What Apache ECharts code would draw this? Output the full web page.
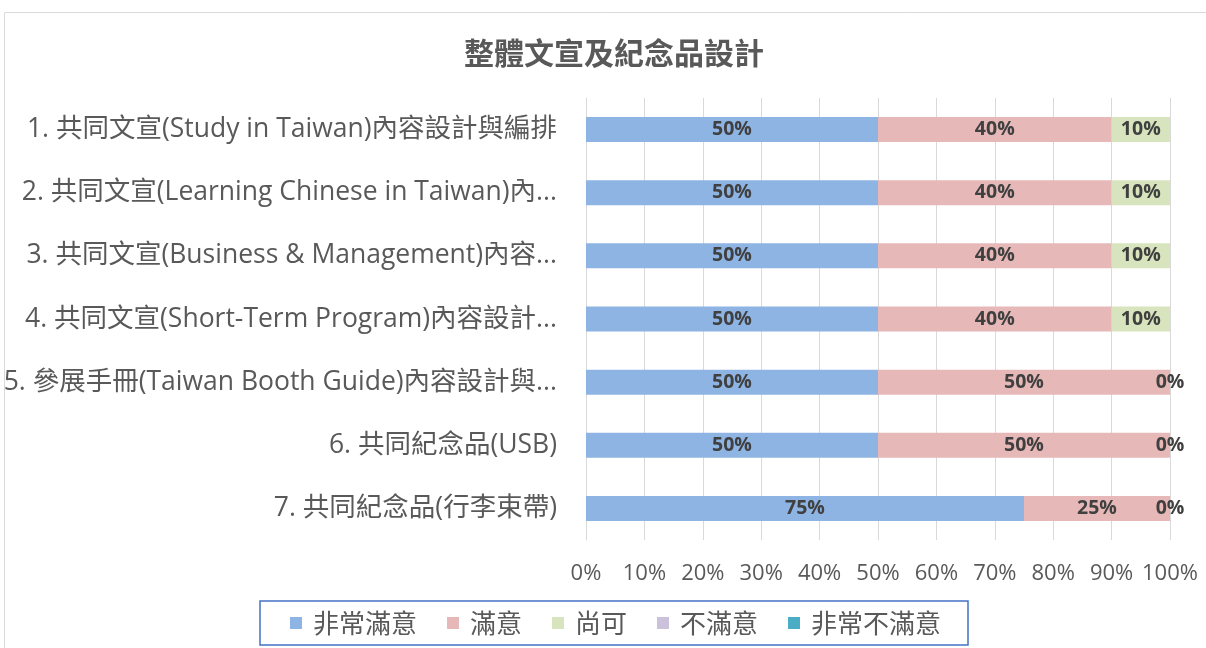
<!DOCTYPE html>
<html>
<head>
<meta charset="utf-8">
<script src="https://cdn.jsdelivr.net/npm/echarts@6/dist/echarts.min.js"></script>
<style>
  html, body { margin: 0; padding: 0; background: #fff; }
  #chart { width: 1206px; height: 648px; }
</style>
</head>
<body>
<div id="chart"></div>
<script>
var chartTitle = '整體文宣及紀念品設計';
var categories = [
    '1. 共同文宣(Study in Taiwan)內容設計與編排',
    '2. 共同文宣(Learning Chinese in Taiwan)內容設計與編排',
    '3. 共同文宣(Business & Management)內容設計與編排',
    '4. 共同文宣(Short-Term Program)內容設計與編排',
    '5. 參展手冊(Taiwan Booth Guide)內容設計與編排',
    '6. 共同紀念品(USB)',
    '7. 共同紀念品(行李束帶)'
];
var seriesNames = ['非常滿意', '滿意', '尚可', '不滿意', '非常不滿意'];
var veryGood = [50, 50, 50, 50, 50, 50, 75];
var good = [40, 40, 40, 40, 50, 50, 25];
var fair = [10, 10, 10, 10, 0, 0, 0];
var bad = [null, null, null, null, null, null, null];
var veryBad = [null, null, null, null, null, null, null];
var xTicks = [0, 10, 20, 30, 40, 50, 60, 70, 80, 90, 100];

var colors = ['#8EB4E3', '#E6B9B8', '#D7E4BD', '#CCC1DA', '#4BACC6'];
var font = '"Open Sans", "Noto Sans CJK TC", sans-serif';
var cjkFont = '"Noto Sans CJK TC", sans-serif';
var catFontSize = 26.5;
var catMaxWidth = 554;

// 類別標籤太長時像 Excel 一樣以 ... 截斷（用 canvas 實際量寬度）
var measureCtx = document.createElement('canvas').getContext('2d');
measureCtx.font = catFontSize + 'px ' + font;
function cutLabel(s) {
    if (measureCtx.measureText(s).width <= catMaxWidth) return s;
    var t = s;
    while (t.length > 1 && measureCtx.measureText(t + '...').width > catMaxWidth) {
        t = t.slice(0, -1);
    }
    return t + '...';
}

// Excel 類別軸由上而下，ECharts 由下而上，所以反轉
var cats = categories.slice().reverse();
function rev(a) { return a.slice().reverse(); }
var allData = [veryGood, good, fair, bad, veryBad];

var series = seriesNames.map(function (name, i) {
    return {
        name: name,
        type: 'bar',
        stack: 'total',
        barWidth: 25,
        data: rev(allData[i]),
        itemStyle: { color: colors[i] },
        label: {
            show: i < 3,
            position: 'inside',
            formatter: '{c}%',
            fontFamily: font,
            fontSize: 19.5,
            fontWeight: 'bold',
            color: '#404040'
        }
    };
});

var myChart = echarts.init(document.getElementById('chart'));
var option = {
    animation: false,
    title: {
        text: chartTitle,
        left: 609,
        textAlign: 'center',
        top: 33,
        textStyle: {
            fontFamily: cjkFont,
            fontSize: 30,
            fontWeight: 'bold',
            color: '#595959'
        }
    },
    legend: {
        bottom: 3,
        left: 260,
        padding: [9, 27, 9, 30],
        borderColor: '#4472C4',
        borderWidth: 1.5,
        borderRadius: 0,
        itemWidth: 12,
        itemHeight: 12,
        itemGap: 30,
        icon: 'rect',
        textStyle: {
            fontFamily: cjkFont,
            fontSize: 26,
            color: '#595959',
            padding: [0, 0, 0, 6]
        },
        data: seriesNames
    },
    graphic: [{
        type: 'rect',
        shape: { x: 4.5, y: 12.5, width: 1300, height: 700 },
        style: { fill: 'none', stroke: '#D9D9D9', lineWidth: 1 },
        silent: true,
        z: -10
    }],
    grid: {
        left: 586,
        right: 36,
        top: 98,
        bottom: 108,
        outerBoundsMode: 'none'
    },
    xAxis: {
        type: 'value',
        min: 0,
        max: 100,
        interval: 10,
        axisLine: { show: false },
        axisTick: { show: false },
        splitLine: { lineStyle: { color: '#D9D9D9', width: 1 } },
        axisLabel: {
            formatter: function (v) { return xTicks.indexOf(v) >= 0 ? v + '%' : ''; },
            fontFamily: font,
            fontSize: 22,
            color: '#595959',
            margin: 23
        }
    },
    yAxis: {
        type: 'category',
        data: cats,
        axisLine: { lineStyle: { color: '#D9D9D9' } },
        axisTick: { show: false },
        axisLabel: {
            fontFamily: font,
            fontSize: catFontSize,
            color: '#595959',
            margin: 29,
            formatter: cutLabel
        }
    },
    series: series
};
myChart.setOption(option, true);
</script>
</body>
</html>
